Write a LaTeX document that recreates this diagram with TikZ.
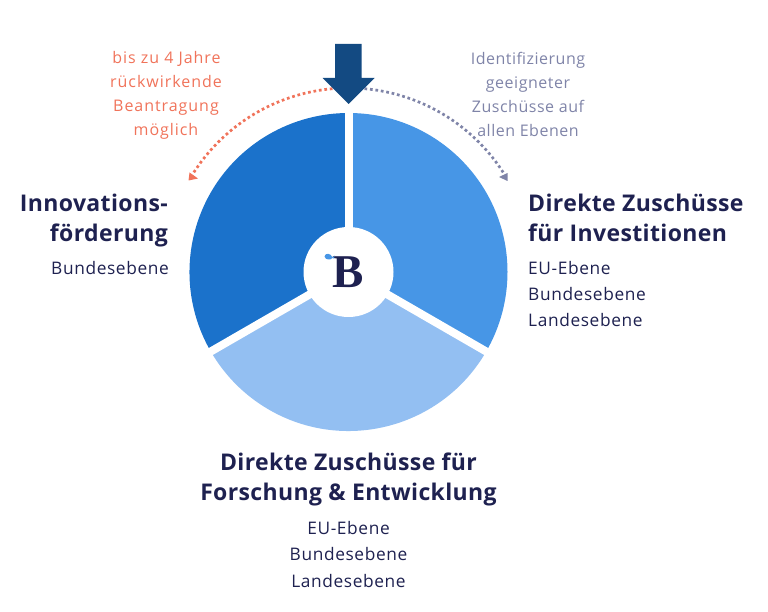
\documentclass[tikz,border=0pt]{standalone}
\usepackage{fontspec}
\setmainfont{Open Sans}
\newfontfamily\headfont[LetterSpace=1.6]{Open Sans}
\newfontfamily\subfont[LetterSpace=3.6]{Open Sans}
\newfontfamily\notefont[LetterSpace=3.2]{Open Sans}
\newfontfamily\coralfont[LetterSpace=6]{Open Sans}
\newfontfamily\logofont{Liberation Serif}
\usetikzlibrary{arrows.meta}
\definecolor{navy}{HTML}{1E2150}
\definecolor{blueA}{HTML}{1B72CB}
\definecolor{blueB}{HTML}{4796E6}
\definecolor{blueC}{HTML}{93BFF2}
\definecolor{arrowblue}{HTML}{134A82}
\definecolor{coral}{HTML}{F0735A}
\definecolor{slate}{HTML}{7F84A8}
\tikzset{
  x=1pt,y=1pt,
  headline/.style={font=\headfont\fontsize{23}{26}\selectfont\bfseries,text=navy,inner sep=0pt},
  subline/.style={font=\subfont\fontsize{17.3}{20}\selectfont,text=navy,inner sep=0pt},
  note/.style={font=\notefont\fontsize{16}{19}\selectfont,inner sep=0pt,anchor=base},
  coralnote/.style={font=\coralfont\fontsize{16}{19}\selectfont,inner sep=0pt,anchor=base,text=coral},
  dotarc/.style={line width=2.7pt,dash pattern=on 2.7pt off 2.8pt},
  gapline/.style={draw=white,line width=8pt},
}
\begin{document}
\begin{tikzpicture}
\useasboundingbox (0,0) rectangle (768,611);
\coordinate (c) at (348.5,339);
% sectors
\fill[blueB] (c) -- (348.5,498) arc[start angle=90,end angle=-30,radius=159] -- cycle;
\fill[blueC] (c) -- ++(-30:159) arc[start angle=-30,end angle=-150,radius=159] -- cycle;
\fill[blueA] (c) -- ++(-150:159) arc[start angle=210,end angle=90,radius=159] -- cycle;
\draw[gapline] (c) -- (348.5,505);
\draw[gapline] (c) -- ++(-30:170);
\draw[gapline] (c) -- ++(-150:170);
\node[circle,fill=white,minimum size=90pt,inner sep=0pt] (hub) at (c) {};
\node[font=\logofont\bfseries\fontsize{47}{47}\selectfont,text=navy,inner sep=0pt,anchor=base] (logo) at (348.5,323) {B};
\fill[blueB] (332,353) .. controls (332,351) and (325,350.5) .. (324.5,354.5) .. controls (325,358.5) and (331,358) .. (332.5,353.5) -- (334.5,355.5) -- (334,352.5) -- cycle;
% dotted arcs
\coordinate (ls) at (332.5,522.3);
\coordinate (rs) at (364.5,522.3);
\draw[dotarc,coral] (ls) arc[start angle=95,end angle=149,radius=184];
\fill[coral] (188.5,430.5) -- (189.5,438.5) -- (198,432.5) -- cycle;
\draw[dotarc,slate] (rs) arc[start angle=85,end angle=31,radius=184];
\fill[slate] (507.5,430) -- (507.5,438) -- (499,434) -- cycle;
% down arrow
\fill[arrowblue] (335,567) -- (361.5,567) -- (361.5,533) -- (374.5,533) -- (348.5,507) -- (322.5,533) -- (335,533) -- cycle;
% notes
\node[coralnote] (n1) at (166.5,547) {bis zu 4 Jahre};
\node[coralnote] (n2) at (166,523) {rückwirkende};
\node[coralnote] (n3) at (166,499) {Beantragung};
\node[coralnote] (n4) at (166,475) {möglich};
\node[note,text=slate] (m1) at (528,546.5) {Identifizierung};
\node[note,text=slate] (m2) at (528,522.5) {geeigneter};
\node[note,text=slate] (m3) at (528,498.5) {Zuschüsse auf};
\node[note,text=slate] (m4) at (528,474.5) {allen Ebenen};
% left block
\node[headline,anchor=base east] (l1) at (168,399) {Innovations-};
\node[headline,anchor=base east] (l2) at (168,369) {förderung};
\node[subline,anchor=base east] (l3) at (169,336.5) {Bundesebene};
% right block
\node[headline,anchor=base west] (r1) at (528,399) {Direkte Zuschüsse};
\node[headline,anchor=base west] (r2) at (528,369) {für Investitionen};
\node[subline,anchor=base west] (r3) at (528,336.5) {EU-Ebene};
\node[subline,anchor=base west] (r4) at (528,310.5) {Bundesebene};
\node[subline,anchor=base west] (r5) at (528,284.5) {Landesebene};
% bottom block
\node[headline,anchor=base] (b1) at (348.5,140.5) {Direkte Zuschüsse für};
\node[headline,anchor=base] (b2) at (348.5,110.5) {Forschung \& Entwicklung};
\node[subline,anchor=base] (b3) at (348.5,76.5) {EU-Ebene};
\node[subline,anchor=base] (b4) at (348.5,50.5) {Bundesebene};
\node[subline,anchor=base] (b5) at (348.5,23.5) {Landesebene};
\end{tikzpicture}
\end{document}
